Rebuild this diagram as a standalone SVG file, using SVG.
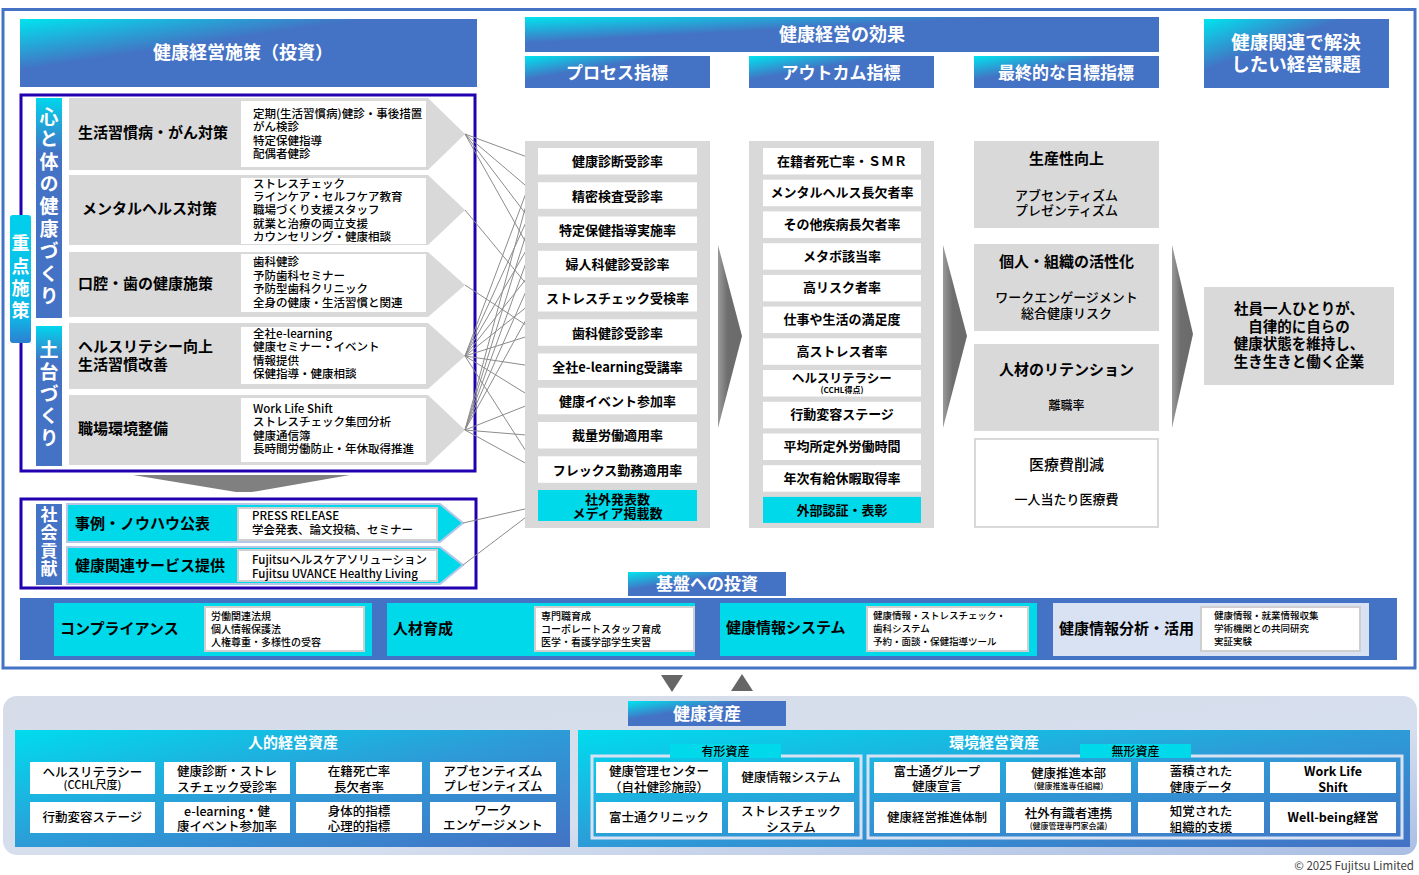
<svg xmlns="http://www.w3.org/2000/svg" width="1419" height="875" viewBox="0 0 1419 875">
<defs>
<linearGradient id="gH" x1="0" y1="0" x2="1" y2="1">
<stop offset="0" stop-color="#00E4EE"/><stop offset="0.38" stop-color="#4472C4"/><stop offset="1" stop-color="#4472C4"/>
</linearGradient>
<linearGradient id="gV" x1="0" y1="0" x2="0" y2="1">
<stop offset="0" stop-color="#00D6EC"/><stop offset="0.25" stop-color="#4472C4"/><stop offset="1" stop-color="#4472C4"/>
</linearGradient>
<linearGradient id="gK" x1="0" y1="0" x2="0" y2="1">
<stop offset="0" stop-color="#00D0EC"/><stop offset="0.8" stop-color="#10B6E6"/><stop offset="1" stop-color="#2D7FD0"/>
</linearGradient>
<linearGradient id="gP" x1="0" y1="0" x2="1" y2="1">
<stop offset="0" stop-color="#00DCEE"/><stop offset="0.5" stop-color="#2D9BD7"/><stop offset="1" stop-color="#4472C4"/>
</linearGradient>
<linearGradient id="gB" x1="0" y1="0" x2="1" y2="1">
<stop offset="0" stop-color="#D6DCE8"/><stop offset="0.6" stop-color="#D6DFEE"/><stop offset="1" stop-color="#A9BEE4"/>
</linearGradient>
<linearGradient id="gA" x1="0" y1="0" x2="1" y2="0">
<stop offset="0" stop-color="#9A9A9A"/><stop offset="0.4" stop-color="#6E6E6E"/><stop offset="1" stop-color="#6A6A6A"/>
</linearGradient>
</defs>
<style>
text{font-family:"Noto Sans CJK JP","Noto Sans",sans-serif;fill:#000;dominant-baseline:central}
.ht{font-weight:bold;fill:#fff;text-anchor:middle;font-size:18px}
.hs{font-weight:bold;fill:#fff;text-anchor:middle;font-size:17px}
.vt{font-weight:bold;fill:#fff;font-size:19px;writing-mode:vertical-rl;text-orientation:upright}
.lbl{font-weight:bold;font-size:15px}
.det{font-size:11.5px;font-weight:500}
.it{font-weight:bold;font-size:13px;text-anchor:middle}
.ft{font-weight:bold;font-size:15px;text-anchor:middle}
.fs{font-size:13px;text-anchor:middle;font-weight:500}
.bl{font-weight:bold;font-size:15px}
.bd{font-size:10px;font-weight:500}
.at{font-size:12.5px;text-anchor:middle;font-weight:500}
.as{font-size:8px}
.row{fill:#D9D9D9}
.wb{fill:#fff}
.cy{fill:#00D9E9}
.wbb{fill:#fff;stroke:#CFCFCF;stroke-width:2}
.con line{stroke:#8C8C8C;stroke-width:1}
</style>
<rect width="1419" height="875" fill="#fff"/>
<rect x="3" y="9.5" width="1412" height="658.5" fill="none" stroke="#4472C4" stroke-width="3"/>

<!-- headers -->
<g id="hdr-invest"><rect x="20" y="19" width="457" height="68" fill="url(#gH)"/><text class="ht" x="243" y="51">健康経営施策（投資）</text></g>
<g id="hdr-effect"><rect x="525" y="17" width="634" height="35" fill="url(#gH)"/><text class="ht" x="842" y="33">健康経営の効果</text></g>
<g id="hdr-process"><rect x="525" y="56" width="185" height="32" fill="url(#gH)"/><text class="hs" x="617" y="71">プロセス指標</text></g>
<g id="hdr-outcome"><rect x="749" y="56" width="185" height="32" fill="url(#gH)"/><text class="hs" x="841" y="71">アウトカム指標</text></g>
<g id="hdr-final"><rect x="974" y="56" width="185" height="32" fill="url(#gH)"/><text class="hs" x="1066" y="71">最終的な目標指標</text></g>
<g id="hdr-issue"><rect x="1204" y="19" width="185" height="69" fill="url(#gH)"/><text class="ht" style="font-size:18.5px"><tspan x="1296" y="41">健康関連で解決</tspan><tspan x="1296" y="63">したい経営課題</tspan></text></g>

<!-- left policies frame -->
<g id="policies">
<rect x="21" y="95" width="454" height="376" fill="none" stroke="#2200B0" stroke-width="3"/>
<rect x="36" y="98" width="26" height="220" fill="url(#gV)"/>
<text class="vt" x="49" y="107" style="letter-spacing:3.4px">心と体の健康づくり</text>
<rect x="36" y="326" width="26" height="140" fill="url(#gV)"/>
<text class="vt" x="49" y="340" style="letter-spacing:3px">土台づくり</text>
</g>
<g id="juten">
<rect x="10" y="215" width="21" height="128" rx="3" fill="url(#gK)"/>
<text class="vt" x="20.5" y="234.5" style="font-size:18px;letter-spacing:4.3px">重点施策</text>
</g>

<g id="p1"><polygon class="row" points="69,98 428,98 465,134 428,170 69,170"/><rect class="wb" x="241" y="101" width="185" height="66"/>
<text class="lbl" x="78" y="131">生活習慣病・がん対策</text>
<text class="det"><tspan x="253" y="112.5">定期(生活習慣病)健診・事後措置</tspan><tspan x="253" y="126">がん検診</tspan><tspan x="253" y="139.5">特定保健指導</tspan><tspan x="253" y="153">配偶者健診</tspan></text></g>
<g id="p2"><polygon class="row" points="69,175 428,175 465,210 428,245 69,245"/><rect class="wb" x="241" y="178" width="185" height="66"/>
<text class="lbl" x="82" y="207">メンタルヘルス対策</text>
<text class="det"><tspan x="253" y="182.5">ストレスチェック</tspan><tspan x="253" y="196">ラインケア・セルフケア教育</tspan><tspan x="253" y="209">職場づくり支援スタッフ</tspan><tspan x="253" y="222.5">就業と治療の両立支援</tspan><tspan x="253" y="235.5">カウンセリング・健康相談</tspan></text></g>
<g id="p3"><polygon class="row" points="69,252 428,252 465,285 428,317 69,317"/><rect class="wb" x="241" y="254" width="185" height="58"/>
<text class="lbl" x="78" y="282">口腔・歯の健康施策</text>
<text class="det"><tspan x="253" y="261">歯科健診</tspan><tspan x="253" y="274.5">予防歯科セミナー</tspan><tspan x="253" y="288">予防型歯科クリニック</tspan><tspan x="253" y="301.5">全身の健康・生活習慣と関連</tspan></text></g>
<g id="p4"><polygon class="row" points="69,323 428,323 465,356 428,389 69,389"/><rect class="wb" x="241" y="327" width="185" height="57"/>
<text class="lbl"><tspan x="78" y="345">ヘルスリテシー向上</tspan><tspan x="78" y="363">生活習慣改善</tspan></text>
<text class="det"><tspan x="253" y="333">全社e-learning</tspan><tspan x="253" y="346">健康セミナー・イベント</tspan><tspan x="253" y="359.5">情報提供</tspan><tspan x="253" y="373">保健指導・健康相談</tspan></text></g>
<g id="p5"><polygon class="row" points="69,395 428,395 465,430 428,465 69,465"/><rect class="wb" x="241" y="398" width="185" height="64"/>
<text class="lbl" x="78" y="427">職場環境整備</text>
<text class="det"><tspan x="253" y="408">Work Life Shift</tspan><tspan x="253" y="421">ストレスチェック集団分析</tspan><tspan x="253" y="434.5">健康通信簿</tspan><tspan x="253" y="448">長時間労働防止・年休取得推進</tspan></text></g>

<g id="down-arrow"><polygon points="133,475 350,475 252,492 236,492" fill="#808080"/></g>

<g id="social">
<rect x="21" y="499" width="455" height="89" fill="none" stroke="#2200B0" stroke-width="3"/>
<rect x="36" y="504" width="26" height="81" fill="#4472C4"/>
<text class="vt" x="49" y="506" style="font-size:17px;letter-spacing:1px">社会貢献</text>
</g>
<g id="s1"><polygon class="cy" points="67,504 440,504 463,523 440,542 67,542" stroke="#B4C7E7" stroke-width="2"/><rect class="wbb" x="238" y="508" width="199" height="32"/>
<text class="lbl" x="75" y="522">事例・ノウハウ公表</text>
<text class="det"><tspan x="252" y="515">PRESS RELEASE</tspan><tspan x="252" y="529">学会発表、論文投稿、セミナー</tspan></text></g>
<g id="s2"><polygon class="cy" points="67,547 440,547 463,565 440,584 67,584" stroke="#B4C7E7" stroke-width="2"/><rect class="wbb" x="238" y="550" width="199" height="31"/>
<text class="lbl" x="75" y="564">健康関連サービス提供</text>
<text class="det"><tspan x="252" y="559">Fujitsuヘルスケアソリューション</tspan><tspan x="252" y="573">Fujitsu UVANCE Healthy Living</tspan></text></g>

<!-- connectors -->
<g id="connectors" class="con">
<line x1="465" y1="134" x2="538" y2="161"/><line x1="465" y1="134" x2="538" y2="196"/><line x1="465" y1="134" x2="538" y2="230"/><line x1="465" y1="134" x2="538" y2="264"/>
<line x1="465" y1="210" x2="538" y2="298"/>
<line x1="465" y1="285" x2="538" y2="333"/>
<line x1="465" y1="356" x2="538" y2="161"/><line x1="465" y1="356" x2="538" y2="196"/><line x1="465" y1="356" x2="538" y2="230"/><line x1="465" y1="356" x2="538" y2="264"/><line x1="465" y1="356" x2="538" y2="298"/><line x1="465" y1="356" x2="538" y2="333"/><line x1="465" y1="356" x2="538" y2="367"/><line x1="465" y1="356" x2="538" y2="401"/><line x1="465" y1="356" x2="538" y2="470"/>
<line x1="465" y1="430" x2="538" y2="161"/><line x1="465" y1="430" x2="538" y2="196"/><line x1="465" y1="430" x2="538" y2="230"/><line x1="465" y1="430" x2="538" y2="264"/><line x1="465" y1="430" x2="538" y2="298"/><line x1="465" y1="430" x2="538" y2="401"/><line x1="465" y1="430" x2="538" y2="436"/><line x1="465" y1="430" x2="538" y2="470"/>
<line x1="463" y1="523" x2="538" y2="506"/><line x1="463" y1="565" x2="538" y2="508"/>
</g>

<!-- process column -->
<g id="process">
<rect x="525" y="141" width="185" height="387" fill="#D9D9D9"/>
<rect class="wb" x="538" y="148" width="159" height="26.5"/><text class="it" x="617.5" y="160.5">健康診断受診率</text>
<rect class="wb" x="538" y="182.3" width="159" height="26.5"/><text class="it" x="617.5" y="195">精密検査受診率</text>
<rect class="wb" x="538" y="216.5" width="159" height="26.5"/><text class="it" x="617.5" y="229.3">特定保健指導実施率</text>
<rect class="wb" x="538" y="250.8" width="159" height="26.5"/><text class="it" x="617.5" y="263.5">婦人科健診受診率</text>
<rect class="wb" x="538" y="285" width="159" height="26.5"/><text class="it" x="617.5" y="297.8">ストレスチェック受検率</text>
<rect class="wb" x="538" y="319.3" width="159" height="26.5"/><text class="it" x="617.5" y="332">歯科健診受診率</text>
<rect class="wb" x="538" y="353.5" width="159" height="26.5"/><text class="it" x="617.5" y="366.3">全社e-learning受講率</text>
<rect class="wb" x="538" y="387.8" width="159" height="26.5"/><text class="it" x="617.5" y="400.5">健康イベント参加率</text>
<rect class="wb" x="538" y="422" width="159" height="26.5"/><text class="it" x="617.5" y="434.8">裁量労働適用率</text>
<rect class="wb" x="538" y="456.3" width="159" height="26.5"/><text class="it" x="617.5" y="469">フレックス勤務適用率</text>
<rect class="cy" x="538" y="490" width="159" height="31"/><text class="it"><tspan x="617.5" y="497.5">社外発表数</tspan><tspan x="617.5" y="512">メディア掲載数</tspan></text>
</g>

<g id="arrow1"><polygon points="718,245 742,336 718,428" fill="url(#gA)"/></g>

<!-- outcome column -->
<g id="outcome">
<rect x="749" y="141" width="185" height="387" fill="#D9D9D9"/>
<rect class="wb" x="763" y="148" width="158" height="26.5"/><text class="it" x="842" y="160">在籍者死亡率・ＳＭＲ</text>
<rect class="wb" x="763" y="179.7" width="158" height="26.5"/><text class="it" x="842" y="191.7">メンタルヘルス長欠者率</text>
<rect class="wb" x="763" y="211.4" width="158" height="26.5"/><text class="it" x="842" y="223.7">その他疾病長欠者率</text>
<rect class="wb" x="763" y="243.2" width="158" height="26.5"/><text class="it" x="842" y="255.2">メタボ該当率</text>
<rect class="wb" x="763" y="274.9" width="158" height="26.5"/><text class="it" x="842" y="286.9">高リスク者率</text>
<rect class="wb" x="763" y="306.6" width="158" height="26.5"/><text class="it" x="842" y="318.6">仕事や生活の満足度</text>
<rect class="wb" x="763" y="338.3" width="158" height="26.5"/><text class="it" x="842" y="350.3">高ストレス者率</text>
<rect class="wb" x="763" y="370" width="158" height="26.5"/><text class="it"><tspan x="842" y="376.5" style="font-size:12.5px">ヘルスリテラシー</tspan><tspan x="842" y="389" style="font-size:8px">(CCHL得点)</tspan></text>
<rect class="wb" x="763" y="401.8" width="158" height="26.5"/><text class="it" x="842" y="413.8">行動変容ステージ</text>
<rect class="wb" x="763" y="433.5" width="158" height="26.5"/><text class="it" x="842" y="445.5">平均所定外労働時間</text>
<rect class="wb" x="763" y="465.2" width="158" height="26.5"/><text class="it" x="842" y="477.2">年次有給休暇取得率</text>
<rect class="cy" x="763" y="496.9" width="158" height="26"/><text class="it" x="842" y="509">外部認証・表彰</text>
</g>

<g id="arrow2"><polygon points="943,245 967,336 943,428" fill="url(#gA)"/></g>

<!-- final goals -->
<g id="f1"><rect x="974" y="141" width="185" height="87" fill="#D9D9D9"/><text class="ft" x="1066.5" y="157.5">生産性向上</text><text class="fs"><tspan x="1066.5" y="193.5">アブセンティズム</tspan><tspan x="1066.5" y="209">プレゼンティズム</tspan></text></g>
<g id="f2"><rect x="974" y="244" width="185" height="87" fill="#D9D9D9"/><text class="ft" x="1066.5" y="260.5">個人・組織の活性化</text><text class="fs"><tspan x="1066.5" y="295.5">ワークエンゲージメント</tspan><tspan x="1066.5" y="311.5">総合健康リスク</tspan></text></g>
<g id="f3"><rect x="974" y="344" width="185" height="87" fill="#D9D9D9"/><text class="ft" x="1066.5" y="368.5">人材のリテンション</text><text class="fs" x="1066.5" y="404" style="font-size:12px">離職率</text></g>
<g id="f4"><rect x="975" y="439" width="183" height="88" fill="#fff" stroke="#D9D9D9" stroke-width="2"/><text class="ft" x="1066.5" y="463.5" style="font-weight:500">医療費削減</text><text class="fs" x="1066.5" y="498.5">一人当たり医療費</text></g>

<g id="arrow3"><polygon points="1172,245 1193,334 1172,428" fill="url(#gA)"/></g>

<g id="goal"><rect x="1204" y="287" width="190" height="98" fill="#D9D9D9"/>
<text class="ft" style="font-size:14.5px"><tspan x="1299" y="306.5">社員一人ひとりが、</tspan><tspan x="1299" y="324.5">自律的に自らの</tspan><tspan x="1299" y="341.5">健康状態を維持し、</tspan><tspan x="1299" y="359.5">生き生きと働く企業</tspan></text></g>

<!-- foundation investment -->
<g id="kiban-hdr"><rect x="628" y="572" width="158" height="24" fill="url(#gH)"/><text class="hs" x="707" y="582.5">基盤への投資</text></g>
<g id="kiban"><rect x="20" y="598" width="1377" height="62" fill="#4472C4"/></g>
<g id="b1"><rect class="cy" x="54" y="603" width="318" height="53"/><rect class="wbb" x="205" y="607" width="159" height="44"/><text class="bl" x="60" y="627.5">コンプライアンス</text>
<text class="bd"><tspan x="211" y="615">労働関連法規</tspan><tspan x="211" y="628">個人情報保護法</tspan><tspan x="211" y="641">人権尊重・多様性の受容</tspan></text></g>
<g id="b2"><rect class="cy" x="387" y="603" width="308" height="53"/><rect class="wbb" x="535" y="607" width="159" height="44"/><text class="bl" x="393" y="627.5">人材育成</text>
<text class="bd"><tspan x="541" y="615">専門職育成</tspan><tspan x="541" y="628">コーポレートスタッフ育成</tspan><tspan x="541" y="641">医学・看護学部学生実習</tspan></text></g>
<g id="b3"><rect class="cy" x="720" y="603" width="317" height="53"/><rect class="wbb" x="867" y="607" width="161" height="44"/><text class="bl" x="726" y="626.5">健康情報システム</text>
<text class="bd" style="font-size:9.5px"><tspan x="873" y="615">健康情報・ストレスチェック・</tspan><tspan x="873" y="628">歯科システム</tspan><tspan x="873" y="641">予約・面談・保健指導ツール</tspan></text></g>
<g id="b4"><rect x="1053" y="603" width="316" height="53" fill="#D9E2F3"/><rect class="wbb" x="1201" y="607" width="159" height="44"/><text class="bl" x="1059" y="627.5">健康情報分析・活用</text>
<text class="bd" style="font-size:9.5px"><tspan x="1214" y="615">健康情報・就業情報収集</tspan><tspan x="1214" y="628">学術機関との共同研究</tspan><tspan x="1214" y="641">実証実験</tspan></text></g>

<g id="updown"><polygon points="661,675 683,675 672,692" fill="#666"/><polygon points="731,691 753,691 742,674" fill="#666"/></g>

<!-- health assets -->
<g id="assets"><rect x="3" y="696" width="1414" height="159" rx="14" fill="url(#gB)"/></g>
<g id="assets-hdr"><rect x="628" y="701" width="158" height="25" fill="url(#gH)"/><text class="hs" x="707" y="712.5">健康資産</text></g>

<g id="human">
<rect x="15" y="730" width="555" height="117" fill="url(#gP)"/>
<text class="hs" x="293" y="741.5" style="font-size:15px">人的経営資産</text>
<rect class="wb" x="30" y="762" width="125" height="32"/><text class="at"><tspan x="92.5" y="770.5">ヘルスリテラシー</tspan><tspan x="92.5" y="784" style="font-size:11px">(CCHL尺度)</tspan></text>
<rect class="wb" x="164" y="762" width="126" height="32"/><text class="at"><tspan x="227" y="770">健康診断・ストレ</tspan><tspan x="227" y="786">スチェック受診率</tspan></text>
<rect class="wb" x="296" y="762" width="126" height="32"/><text class="at"><tspan x="359" y="770">在籍死亡率</tspan><tspan x="359" y="786">長欠者率</tspan></text>
<rect class="wb" x="430" y="762" width="126" height="32"/><text class="at"><tspan x="493" y="769.5">アブセンティズム</tspan><tspan x="493" y="785">プレゼンティズム</tspan></text>
<rect class="wb" x="30" y="802" width="125" height="31"/><text class="at" x="92.5" y="816.5">行動変容ステージ</text>
<rect class="wb" x="164" y="802" width="126" height="31"/><text class="at"><tspan x="227" y="809.5">e-learning・健</tspan><tspan x="227" y="825">康イベント参加率</tspan></text>
<rect class="wb" x="296" y="802" width="126" height="31"/><text class="at"><tspan x="359" y="809.5">身体的指標</tspan><tspan x="359" y="825">心理的指標</tspan></text>
<rect class="wb" x="430" y="802" width="126" height="31"/><text class="at"><tspan x="493" y="808.5">ワーク</tspan><tspan x="493" y="824">エンゲージメント</tspan></text>
</g>

<g id="env">
<rect x="578" y="730" width="832" height="117" fill="url(#gP)"/>
<text class="hs" x="994" y="741.5" style="font-size:15px">環境経営資産</text>
<rect x="592" y="756" width="269" height="82" fill="none" stroke="#D9E2F3" stroke-width="3"/>
<rect class="cy" x="670" y="744" width="111" height="14"/><text class="at" x="725.5" y="750.5" style="font-size:12px">有形資産</text>
<rect class="wb" x="596" y="762" width="126" height="31"/><text class="at"><tspan x="659" y="770">健康管理センター</tspan><tspan x="659" y="786">（自社健診施設）</tspan></text>
<rect class="wb" x="728" y="762" width="126" height="31"/><text class="at" x="791" y="776.5">健康情報システム</text>
<rect class="wb" x="596" y="802" width="126" height="31"/><text class="at" x="659" y="816.5">富士通クリニック</text>
<rect class="wb" x="728" y="802" width="126" height="31"/><text class="at"><tspan x="791" y="809.5">ストレスチェック</tspan><tspan x="791" y="825.5">システム</tspan></text>
<rect x="868" y="756" width="534" height="82" fill="none" stroke="#D9E2F3" stroke-width="3"/>
<rect class="cy" x="1080" y="744" width="111" height="14"/><text class="at" x="1135.5" y="750.5" style="font-size:12px">無形資産</text>
<rect class="wb" x="874" y="762" width="126" height="31"/><text class="at"><tspan x="937" y="769.5">富士通グループ</tspan><tspan x="937" y="785">健康宣言</tspan></text>
<rect class="wb" x="1006" y="762" width="125" height="31"/><text class="at"><tspan x="1068.5" y="771.5">健康推進本部</tspan><tspan x="1068.5" y="785" class="as">(健康推進専任組織)</tspan></text>
<rect class="wb" x="1138" y="762" width="126" height="31"/><text class="at"><tspan x="1201" y="769.5">蓄積された</tspan><tspan x="1201" y="785.5">健康データ</tspan></text>
<rect class="wb" x="1270" y="762" width="126" height="31"/><text class="at" style="font-weight:bold"><tspan x="1333" y="769.5">Work Life</tspan><tspan x="1333" y="785.5">Shift</tspan></text>
<rect class="wb" x="874" y="802" width="126" height="31"/><text class="at" x="937" y="816.5">健康経営推進体制</text>
<rect class="wb" x="1006" y="802" width="125" height="31"/><text class="at"><tspan x="1068.5" y="811.5">社外有識者連携</tspan><tspan x="1068.5" y="825" class="as">(健康管理専門家会議)</tspan></text>
<rect class="wb" x="1138" y="802" width="126" height="31"/><text class="at"><tspan x="1201" y="809.5">知覚された</tspan><tspan x="1201" y="825.5">組織的支援</tspan></text>
<rect class="wb" x="1270" y="802" width="126" height="31"/><text class="at" x="1333" y="816.5" style="font-weight:bold">Well-being経営</text>
</g>

<text x="1414" y="864.5" style="font-size:11.5px;fill:#404040;text-anchor:end">© 2025 Fujitsu Limited</text>
</svg>
